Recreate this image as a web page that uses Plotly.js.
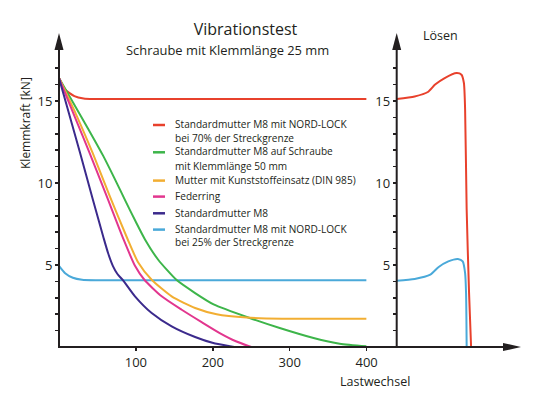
<!DOCTYPE html>
<html><head><meta charset="utf-8">
<script src="https://cdn.plot.ly/plotly-3.0.1.min.js"></script>
<style>html,body{margin:0;padding:0;background:#fff}#chart{width:540px;height:400px}</style>
</head><body><div id="chart"></div>
<script>
// ---------- data ----------
const seriesNames = [
  "Standardmutter M8 mit NORD-LOCK<br>bei 70% der Streckgrenze",
  "Standardmutter M8 auf Schraube<br>mit Klemmlänge 50 mm",
  "Mutter mit Kunststoffeinsatz (DIN 985)",
  "Federring",
  "Standardmutter M8",
  "Standardmutter M8 mit NORD-LOCK<br>bei 25% der Streckgrenze"
];
const seriesColors = ["#e8412c", "#3db54a", "#f2ae32", "#e2368e", "#3b2a8c", "#4aa9d9"];

// Vibrationstest: Lastwechsel -> Klemmkraft [kN]
const lwNL70 = [0, 8, 20, 32, 45, 400];
const kNL70  = [16.4, 15.7, 15.3, 15.15, 15.12, 15.12];

const lwL50 = [0, 19, 38, 57, 72, 87, 100, 112, 129, 153, 177, 201, 248, 287, 331, 365, 400];
const kL50  = [16.4, 14.85, 13.3, 11.7, 10.3, 8.85, 7.62, 6.54, 5.32, 4.08, 3.29, 2.6, 1.77, 1.16, 0.55, 0.2, 0.04];

const lwDIN985 = [0, 22, 44, 66, 89, 103, 120.5, 146.5, 177, 205, 244, 290, 400];
const kDIN985  = [16.4, 14.2, 11.8, 9.2, 6.6, 5.15, 4.1, 3.09, 2.38, 2.0, 1.8, 1.73, 1.72];

const lwFeder = [0, 20, 40, 62, 83.6, 98.8, 111, 133.5, 159.6, 186, 209, 230, 250];
const kFeder  = [16.4, 14.1, 11.8, 9.2, 6.6, 4.95, 4.1, 3.09, 2.27, 1.5, 0.85, 0.35, 0];

const lwStd = [0, 27, 44, 58, 64, 70, 76, 83.6, 98.8, 120.5, 146.5, 177, 200.6, 222, 228];
const kStd  = [16.4, 11.9, 9.0, 6.65, 5.7, 4.95, 4.45, 4.05, 3.09, 2.07, 1.26, 0.61, 0.24, 0.05, 0];

const lwNL25 = [0, 8, 18, 30, 50, 400];
const kNL25  = [4.95, 4.5, 4.22, 4.1, 4.07, 4.07];

// Lösen (relativer Verlauf)
const loesenXNL70 = [0, 15, 26, 32, 40, 50, 54, 56, 57, 58.3, 60.3, 62];
const loesenKNL70 = [15.12, 15.28, 15.55, 16.0, 16.4, 16.7, 16.6, 16.1, 14.5, 8.4, 3.3, 0];
const loesenXNL25 = [0, 15, 28, 35, 43, 51, 55, 57, 57.8, 58.3];
const loesenKNL25 = [4.04, 4.15, 4.41, 4.88, 5.22, 5.37, 5.22, 4.51, 3.29, 0];

const xTickVals = [100, 200, 300, 400];
const xTickText = ["100", "200", "300", "400"];
const yTickVals = [1,2,3,4,5,6,7,8,9,10,11,12,13,14,15,16,17];
const yTickText = ["","","","","5","","","","","10","","","","","15","",""];

// ---------- layout helpers ----------
const W = 540, H = 400;
const X = p => p / W;
const Y = p => 1 - p / H;
const ink = "#231f20";
const FONT = "Open Sans, Noto Sans, sans-serif";

const mainX = [lwNL70, lwL50, lwDIN985, lwFeder, lwStd, lwNL25];
const mainY = [kNL70, kL50, kDIN985, kFeder, kStd, kNL25];

const traces = [];
const order = [5, 0, 1, 2, 3, 4];
order.forEach(i => {
  traces.push({
    x: mainX[i], y: mainY[i], xaxis: "x", yaxis: "y",
    type: "scatter", mode: "lines", name: seriesNames[i].replace("<br>", " "),
    line: {color: seriesColors[i], width: 2, shape: "spline", smoothing: 0.6},
    showlegend: false, hoverinfo: "skip"
  });
});
traces.push({x: loesenXNL25, y: loesenKNL25, xaxis: "x2", yaxis: "y2", type: "scatter", mode: "lines",
  name: seriesNames[5].replace("<br>", " "), line: {color: seriesColors[5], width: 2, shape: "spline", smoothing: 0.6}, showlegend: false, hoverinfo: "skip"});
traces.push({x: loesenXNL70, y: loesenKNL70, xaxis: "x2", yaxis: "y2", type: "scatter", mode: "lines",
  name: seriesNames[0].replace("<br>", " "), line: {color: seriesColors[0], width: 2, shape: "spline", smoothing: 0.6}, showlegend: false, hoverinfo: "skip"});

const yDom = [Y(347), Y(35.4)];
const tickFont = {family: FONT, size: 13, color: ink};
const baseAx = {showgrid: false, zeroline: false, showline: false, fixedrange: true};

const layout = {
  width: W, height: H,
  margin: {l: 0, r: 0, t: 0, b: 0},
  paper_bgcolor: "#ffffff", plot_bgcolor: "rgba(0,0,0,0)",
  font: {family: FONT, color: ink},
  showlegend: false,
  title: {text: "Vibrationstest", x: X(245.5), xanchor: "center", y: Y(29), yanchor: "middle",
          xref: "paper", yref: "paper", font: {family: FONT, size: 16, color: ink}},
  xaxis: Object.assign({}, baseAx, {domain: [X(59), X(366.6)], range: [0, 400], anchor: "y",
    tickvals: xTickVals, ticktext: xTickText, ticks: "outside", ticklen: 3, tickwidth: 1.5, tickcolor: ink, tickfont: tickFont}),
  xaxis3: Object.assign({}, baseAx, {overlaying: "x", range: [0, 400], anchor: "y",
    tickvals: xTickVals, ticks: "inside", ticklen: 3, tickwidth: 1.5, tickcolor: ink, showticklabels: false}),
  yaxis: Object.assign({}, baseAx, {domain: yDom, range: [0, 19], anchor: "x",
    tickvals: yTickVals, ticktext: yTickText, ticks: "outside", ticklen: 3, tickwidth: 1.5, tickcolor: ink, tickfont: tickFont}),
  yaxis3: Object.assign({}, baseAx, {overlaying: "y", range: [0, 19], anchor: "x", side: "left",
    tickvals: yTickVals, ticks: "inside", ticklen: 3, tickwidth: 1.5, tickcolor: ink, showticklabels: false}),
  xaxis2: Object.assign({}, baseAx, {domain: [X(396.7), X(516.7)], range: [0, 100], anchor: "y2",
    showticklabels: false, ticks: ""}),
  yaxis2: Object.assign({}, baseAx, {domain: yDom, range: [0, 19], anchor: "x2",
    tickvals: yTickVals, ticktext: yTickText, ticks: "outside", ticklen: 3, tickwidth: 1.5, tickcolor: ink, tickfont: tickFont}),
  yaxis4: Object.assign({}, baseAx, {overlaying: "y2", range: [0, 19], anchor: "x2", side: "left",
    tickvals: yTickVals, ticks: "inside", ticklen: 3, tickwidth: 1.5, tickcolor: ink, showticklabels: false}),
  shapes: [],
  annotations: []
};

// axis lines and arrow heads
const axLine = {color: ink, width: 2};
layout.shapes.push({type: "line", xref: "paper", yref: "paper", x0: X(58), x1: X(506), y0: Y(347), y1: Y(347), line: axLine, layer: "above"});
layout.shapes.push({type: "path", xref: "paper", yref: "paper",
  path: `M ${X(521)} ${Y(347)} L ${X(503)} ${Y(343)} L ${X(503)} ${Y(351)} Z`, fillcolor: ink, line: {width: 0}, layer: "above"});
[59, 396.7].forEach(px => {
  layout.shapes.push({type: "line", xref: "paper", yref: "paper", x0: X(px), x1: X(px), y0: Y(348), y1: Y(46), line: axLine, layer: "above"});
  layout.shapes.push({type: "path", xref: "paper", yref: "paper",
    path: `M ${X(px)} ${Y(33)} L ${X(px - 4.5)} ${Y(50)} L ${X(px + 4.5)} ${Y(50)} Z`, fillcolor: ink, line: {width: 0}, layer: "above"});
});

// texts
const ann = (text, x, y, size, extra) => Object.assign({text, x, y, xref: "paper", yref: "paper", showarrow: false,
  xanchor: "center", yanchor: "middle", font: {family: FONT, size, color: ink}}, extra || {});
layout.annotations.push(ann("Schraube mit Klemmlänge 25 mm", X(227.5), Y(50), 12.9));
layout.annotations.push(ann("Lösen", X(440), Y(36), 12.5));
layout.annotations.push(ann("Lastwechsel", X(374.5), Y(381), 12.5));
layout.annotations.push(ann("Klemmkraft [kN]", X(25), Y(123), 12, {textangle: -90}));

// custom legend (one annotation per text line)
const legendLineY = [[124.2, 137.5], [151.5, 165.5], [179.8], [195.8], [212.5], [228.8, 242.5]];
const legendSymbolY = [125, 152.3, 180.6, 196.6, 213.3, 229.6];
seriesNames.forEach((nm, i) => {
  layout.shapes.push({type: "line", xref: "paper", yref: "paper", x0: X(153), x1: X(165),
    y0: Y(legendSymbolY[i]), y1: Y(legendSymbolY[i]), line: {color: seriesColors[i], width: 2.5}});
  nm.split("<br>").forEach((ln, j) => {
    layout.annotations.push(ann(ln, X(174), Y(legendLineY[i][j]), 10.1, {xanchor: "left", align: "left", borderpad: 0}));
  });
});

Plotly.newPlot("chart", traces, layout, {staticPlot: true, displayModeBar: false});
</script>
</body></html>
